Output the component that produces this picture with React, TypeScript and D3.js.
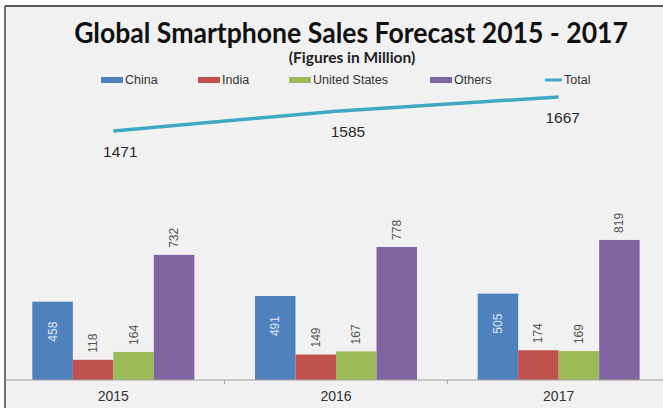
import React from "react";
import * as d3 from "d3";

const years = ["2015", "2016", "2017"];
const seriesNames = ["China", "India", "United States", "Others"];
const china = [458, 491, 505];
const india = [118, 149, 174];
const unitedStates = [164, 167, 169];
const others = [732, 778, 819];
const total = [1471, 1585, 1667];
const seriesColors = ["#4F81BD", "#C0504D", "#9BBB59", "#8064A2"];
const totalColor = "#3FA9C4";

const W = 663;
const H = 410;

export default function App() {
  const seriesValues = [china, india, unitedStates, others];
  const x0 = d3.scaleBand<string>().domain(years).range([2, 670]).padding(0);
  const bw = x0.bandwidth();
  const x1 = d3.scaleBand<string>().domain(seriesNames).range([bw / 2 - 81, bw / 2 + 81]).padding(0);
  const baseY = 380;
  const yBar = d3.scaleLinear().domain([0, 900]).range([baseY, baseY - 900 * 0.171]);
  const yLine = d3.scaleLinear().domain([1471, 1667]).range([131, 97]);
  const cx = (yr: string) => (x0(yr) as number) + bw / 2;
  const line = d3
    .line<number>()
    .x((_, i) => cx(years[i]))
    .y((d) => yLine(d));

  const legendItems = [
    { name: "China", x: 101, color: seriesColors[0] },
    { name: "India", x: 198, color: seriesColors[1] },
    { name: "United States", x: 289, color: seriesColors[2] },
    { name: "Others", x: 430, color: seriesColors[3] },
  ];

  const font = "Arial, 'Liberation Sans', sans-serif";
  const labelDx = [7, 12, 4];

  return (
    <svg
      width={W}
      height={H}
      style={{ position: "absolute", left: 0, top: 0, background: "#fff" }}
      fontFamily={font}
    >
      <rect x={5} y={6} width={W - 5} height={402} fill="#f1f1f1" />
      <line x1={5} y1={6} x2={W} y2={6} stroke="#222" strokeWidth={1.5} />
      <line x1={5} y1={6} x2={5} y2={408} stroke="#444" strokeWidth={1.5} />

      <text
        transform="translate(351,43) scale(0.985,1.05)"
        textAnchor="middle"
        fontFamily="Lato, 'Open Sans', sans-serif"
        fontWeight="bold"
        fontSize={27}
        fill="#111"
      >
        Global Smartphone Sales Forecast 2015 - 2017
      </text>
      <text
        x={352}
        y={63}
        textAnchor="middle"
        fontFamily="Lato, 'Open Sans', sans-serif"
        fontWeight="bold"
        fontSize={15.5}
        fill="#222"
      >
        (Figures in Million)
      </text>

      {legendItems.map((it) => (
        <g key={it.name}>
          <rect x={it.x} y={77} width={22} height={6} fill={it.color} />
          <text x={it.x + 24} y={84} fontSize={12.5} fill="#333">
            {it.name}
          </text>
        </g>
      ))}
      <line x1={545} y1={80} x2={562} y2={80} stroke={totalColor} strokeWidth={3} />
      <text x={564} y={84} fontSize={12.5} fill="#333">
        Total
      </text>

      <path d={line(total) || ""} fill="none" stroke={totalColor} strokeWidth={3.5} />
      {total.map((v, i) => (
        <text
          key={"t" + i}
          x={cx(years[i]) + labelDx[i]}
          y={yLine(v) + 26}
          textAnchor="middle"
          fontSize={15.5}
          fill="#2a2a2a"
        >
          {v}
        </text>
      ))}

      {years.map((yr, gi) => (
        <g key={yr} transform={`translate(${x0(yr)},0)`}>
          {seriesNames.map((s, si) => {
            const v = seriesValues[si][gi];
            const bx = x1(s) as number;
            const top = yBar(v);
            const mid = bx + x1.bandwidth() / 2;
            const inside = si === 0;
            return (
              <g key={s}>
                <rect
                  x={bx}
                  y={top}
                  width={x1.bandwidth()}
                  height={baseY - top}
                  fill={seriesColors[si]}
                />
                <text
                  transform={`translate(${mid + 4},${inside ? top + 20 : top - 7}) rotate(-90)`}
                  textAnchor={inside ? "end" : "start"}
                  fontSize={12}
                  fill={inside ? "#dde8f5" : "#555"}
                >
                  {v}
                </text>
              </g>
            );
          })}
          <text x={bw / 2} y={401} textAnchor="middle" fontSize={14} fill="#333">
            {yr}
          </text>
        </g>
      ))}

      <line x1={5} y1={baseY} x2={W} y2={baseY} stroke="#a0a0a0" strokeWidth={1} />
      {years.slice(1).map((yr) => (
        <line
          key={"tk" + yr}
          x1={x0(yr) as number}
          x2={x0(yr) as number}
          y1={baseY}
          y2={baseY + 4}
          stroke="#a0a0a0"
        />
      ))}
    </svg>
  );
}
